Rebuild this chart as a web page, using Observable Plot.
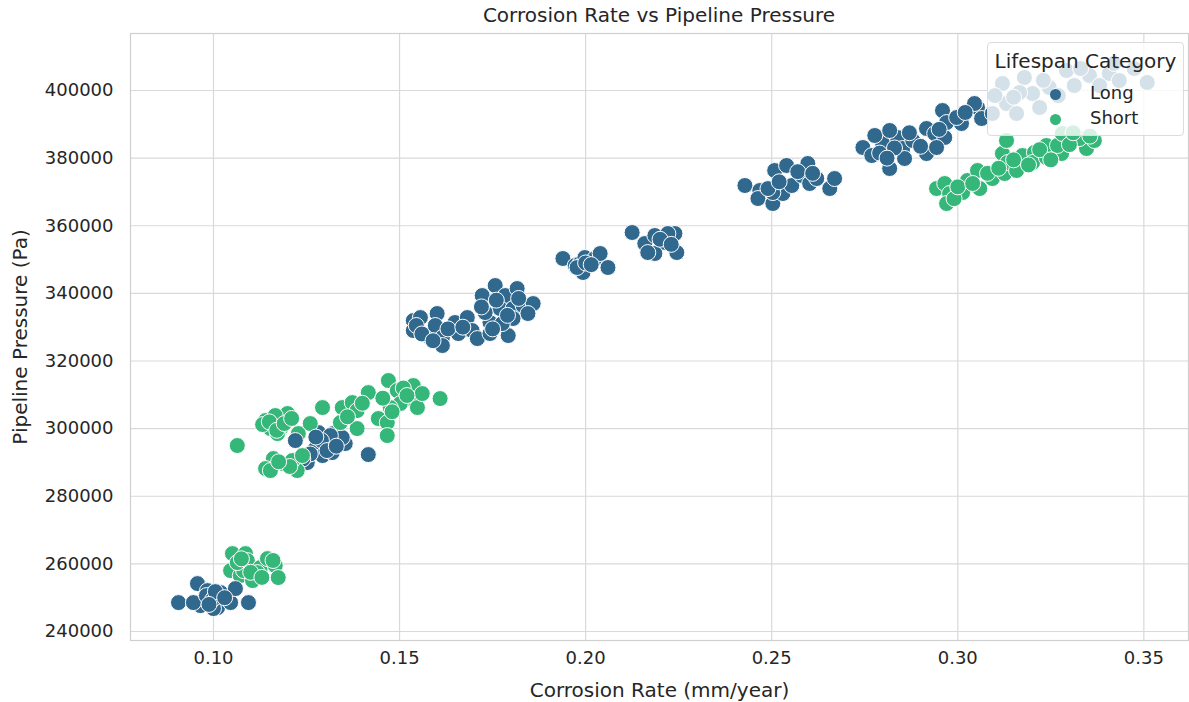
<!DOCTYPE html>
<html>
<head>
<meta charset="utf-8">
<script src="https://cdn.jsdelivr.net/npm/d3@7"></script>
<script src="https://cdn.jsdelivr.net/npm/@observablehq/plot@0.6"></script>
<style>
  body { margin: 0; background: #fff; font-family: "DejaVu Sans", sans-serif; color: #262626; }
  #wrap { position: relative; width: 1189px; height: 702px; }
  #title { position: absolute; left: 130px; width: 1058px; top: 3px; text-align: center; font-size: 20px; }
  #legend { position: absolute; left: 987px; top: 42px; width: 197px; height: 94px;
            background: rgba(255,255,255,0.8); border: 1px solid #dcdcdc; border-radius: 4px; box-sizing: border-box; }
  #legend .lt { text-align: center; font-size: 20px; margin-top: 6px; height: 32px; }
  #legend .row { position: relative; height: 25px; font-size: 18px; }
  #legend .dot { position: absolute; left: 62px; top: 8px; width: 11px; height: 11px; border-radius: 50%; }
  #legend .lab { position: absolute; left: 102px; top: 1px; }
</style>
</head>
<body>
<div id="wrap">
  <div id="title">Corrosion Rate vs Pipeline Pressure</div>
  <div id="chart"></div>
  <div id="legend"></div>
</div>
<script>
// Lifespan categories and their colours
const categories = ["Long", "Short"];
const categoryColors = ["#31688e", "#35b779"];

// Long-lifespan pipelines: corrosion rate (mm/year) and pressure (Pa)
const longRate = [
  0.0906, 0.0957, 0.0984, 0.0973, 0.0992, 0.1011, 0.1019, 0.1046, 0.1059, 0.1094, 0.0965, 0.1000, 0.0946, 0.0981,
  0.0998, 0.1005, 0.0988, 0.1030,
  0.1282, 0.1301, 0.1322, 0.1354, 0.1274, 0.1252, 0.1293, 0.1319, 0.1416, 0.1220, 0.1346, 0.1314,
  0.1290, 0.1305, 0.1330, 0.1260, 0.1240, 0.1275,
  0.1537, 0.1556, 0.1537, 0.1574, 0.1601, 0.1596, 0.1615, 0.1615, 0.1649, 0.1658, 0.1682, 0.1695, 0.1709, 0.1722,
  0.1743, 0.1743, 0.1757, 0.1784, 0.1770, 0.1792, 0.1805, 0.1816, 0.1832, 0.1859, 0.1845, 0.1805, 0.1776, 0.1730,
  0.1545, 0.1560, 0.1590, 0.1630, 0.1670, 0.1720, 0.1760, 0.1790, 0.1820, 0.1750,
  0.1939, 0.1972, 0.1985, 0.1998, 0.2025, 0.2039, 0.2060, 0.1993, 0.1977, 0.2000, 0.2015,
  0.2125, 0.2159, 0.2186, 0.2213, 0.2240, 0.2245, 0.2186, 0.2221, 0.2167, 0.2200, 0.2230,
  0.2428, 0.2468, 0.2463, 0.2503, 0.2508, 0.2540, 0.2530, 0.2554, 0.2581, 0.2597, 0.2602, 0.2621, 0.2656, 0.2669, 0.2503,
  0.2490, 0.2570, 0.2520, 0.2610,
  0.2745, 0.2769, 0.2798, 0.2817, 0.2838, 0.2852, 0.2857, 0.2879, 0.2916, 0.2916, 0.2938, 0.2965, 0.2943, 0.2959,
  0.2970, 0.3010, 0.2997, 0.3053, 0.3064, 0.3045, 0.2777, 0.2817,
  0.2790, 0.2830, 0.2870, 0.2900, 0.2950, 0.3020, 0.2810,
  0.3120, 0.3179, 0.3201, 0.3131, 0.3166, 0.3158, 0.3246, 0.3292, 0.3354, 0.3407, 0.3434, 0.3509, 0.3220, 0.3093,
  0.3313, 0.3381, 0.3474, 0.3150, 0.3230, 0.3270, 0.3330, 0.3420, 0.3100
];
const longPressure = [
  248550, 254170, 252100, 249140, 247660, 247070, 251510, 248550, 252690, 248550, 247660, 246780, 248550, 250620,
  249500, 251800, 248000, 250000,
  298840, 295880, 298540, 295590, 294110, 289970, 292030, 292920, 292330, 296470, 297360, 297950,
  296500, 293500, 294800, 292500, 291000, 297500,
  331970, 332850, 329010, 327530, 334040, 330490, 326940, 324570, 331380, 328120, 332850, 329010, 326640, 339360,
  331380, 328120, 342320, 339360, 335520, 327530, 335520, 341430, 336400, 336990, 334040, 332560, 331080, 334330,
  330500, 328000, 326000, 329500, 330000, 336000, 338000, 333500, 338500, 329500,
  350310, 348240, 348830, 350600, 350310, 351790, 347650, 346170, 347650, 349000, 348500,
  358000, 354740, 357110, 355040, 357700, 352080, 351790, 357700, 352080, 356000, 354500,
  371900, 370420, 368050, 366570, 376340, 377820, 369530, 371900, 374860, 378410, 372490, 373970, 371010, 373970, 369820,
  371000, 376000, 373000, 375500,
  383140, 380770, 384320, 376930, 386100, 382840, 379890, 385210, 388760, 381360, 387280, 386100, 383140, 394080,
  390530, 390240, 392010, 394970, 391720, 396150, 386690, 388170,
  381500, 383000, 387500, 383500, 388500, 393500, 380000,
  402070, 403850, 399110, 396150, 399410, 393200, 400890, 405920, 404440, 405030, 402960, 402370, 394970, 393200,
  401480, 401480, 406510, 398000, 403000, 398500, 406500, 408000, 398500
];

// Short-lifespan pipelines: corrosion rate (mm/year) and pressure (Pa)
const shortRate = [
  0.1051, 0.1086, 0.1091, 0.1046, 0.1072, 0.1105, 0.1126, 0.1166, 0.1174, 0.1145, 0.1081, 0.1118, 0.1064,
  0.1075, 0.1100, 0.1130, 0.1160,
  0.1064,
  0.1140, 0.1153, 0.1199, 0.1180, 0.1228, 0.1172, 0.1293, 0.1260, 0.1346, 0.1373, 0.1416, 0.1386, 0.1341,
  0.1386, 0.1443, 0.1467, 0.1467, 0.1470, 0.1494, 0.1537, 0.1529, 0.1502, 0.1548, 0.1609, 0.1475, 0.1561,
  0.1132, 0.1166,
  0.1161, 0.1188, 0.1225, 0.1140, 0.1212, 0.1239, 0.1153,
  0.1150, 0.1170, 0.1190, 0.1210, 0.1205, 0.1175, 0.1360, 0.1400, 0.1455, 0.1510, 0.1520, 0.1480,
  0.2943, 0.2965, 0.2978, 0.2970, 0.3013, 0.3026, 0.3053, 0.3059, 0.3093, 0.3120, 0.3126, 0.3134, 0.3158,
  0.3174, 0.3206, 0.3201, 0.3238, 0.3238, 0.3279, 0.3268, 0.3292, 0.3340, 0.3346, 0.3367, 0.3131, 0.3281, 0.3327,
  0.2990, 0.3000, 0.3040, 0.3080, 0.3110, 0.3150, 0.3190, 0.3220, 0.3250, 0.3300, 0.3310, 0.3355
];
const shortPressure = [
  263040, 263040, 260970, 258010, 256540, 255060, 258900, 259490, 255950, 261560, 258010, 257420, 260380,
  261500, 257500, 256000, 261000,
  295000,
  302390, 300020, 304460, 300020, 298540, 298540, 306230, 301500, 306230, 307710, 310670, 305340, 301790,
  300020, 302980, 301790, 297950, 314220, 311260, 312740, 308890, 307410, 306230, 308890, 306230, 310370,
  301200, 303870,
  291150, 289670, 287600, 288190, 290560, 292030, 287600,
  302000, 299500, 301500, 303000, 288800, 290200, 303500, 307500, 309000, 312000, 309800, 305000,
  371010, 372490, 369530, 366570, 369820, 373380, 376340, 371010, 373970, 381360, 375450, 378700, 376340,
  380770, 381660, 378700, 380180, 383730, 381360, 383730, 386690, 385210, 382840, 385210, 385210, 387280, 385800,
  368000, 371500, 372500, 375500, 377000, 379500, 378000, 382500, 379500, 384000, 387500, 386500
];

// Axis ticks
const xTicks = [0.10, 0.15, 0.20, 0.25, 0.30, 0.35];
const yTicks = [240000, 260000, 280000, 300000, 320000, 340000, 360000, 380000, 400000];

// Interleave both groups so neither is always drawn on top
const longRows = longRate.map((r, i) => ({rate: r, pressure: longPressure[i], lifespan: "Long"}));
const shortRows = shortRate.map((r, i) => ({rate: r, pressure: shortPressure[i], lifespan: "Short"}));
const rows = [];
const n = Math.max(longRows.length, shortRows.length);
for (let i = 0; i < n; i++) {
  if (i < longRows.length) rows.push(longRows[i]);
  if (i < shortRows.length) rows.push(shortRows[i]);
}

const chart = Plot.plot({
  width: 1189,
  height: 702,
  marginLeft: 130,
  marginRight: 1,
  marginTop: 33,
  marginBottom: 62,
  style: {fontFamily: "DejaVu Sans, sans-serif", fontSize: "18px", color: "#262626", background: "#fff"},
  x: {domain: [0.0777, 0.362], ticks: xTicks},
  y: {domain: [237340, 416860], ticks: yTicks},
  color: {domain: categories, range: categoryColors},
  marks: [
    Plot.gridX(xTicks, {stroke: "#d9d9d9", strokeOpacity: 1, strokeWidth: 1.2}),
    Plot.gridY(yTicks, {stroke: "#d9d9d9", strokeOpacity: 1, strokeWidth: 1.2}),
    Plot.frame({stroke: "#cfcfcf", strokeWidth: 1.2}),
    Plot.axisX(xTicks, {tickSize: 0, tickPadding: 11, tickFormat: d3.format(".2f"), fontSize: 18, label: null}),
    Plot.axisX({tickSize: 0, ticks: [], label: "Corrosion Rate (mm/year)", labelAnchor: "center",
      labelArrow: "none", labelOffset: 56, fontSize: 20}),
    Plot.axisY(yTicks, {tickSize: 0, tickPadding: 17, tickFormat: d3.format("d"), fontSize: 18, label: null}),
    Plot.axisY({tickSize: 0, ticks: [], label: "Pipeline Pressure (Pa)", labelAnchor: "center",
      labelArrow: "none", labelOffset: 118, fontSize: 20}),
    Plot.dot(rows, {x: "rate", y: "pressure", fill: "lifespan", r: 8, stroke: "white", strokeWidth: 1})
  ]
});
document.getElementById("chart").appendChild(chart);

// Legend box placed over the upper-right corner of the plot
const legend = document.getElementById("legend");
legend.innerHTML = `<div class="lt">Lifespan Category</div>` +
  categories.map((c, i) =>
    `<div class="row"><span class="dot" style="background:${categoryColors[i]}"></span><span class="lab">${c}</span></div>`
  ).join("");
</script>
</body>
</html>
